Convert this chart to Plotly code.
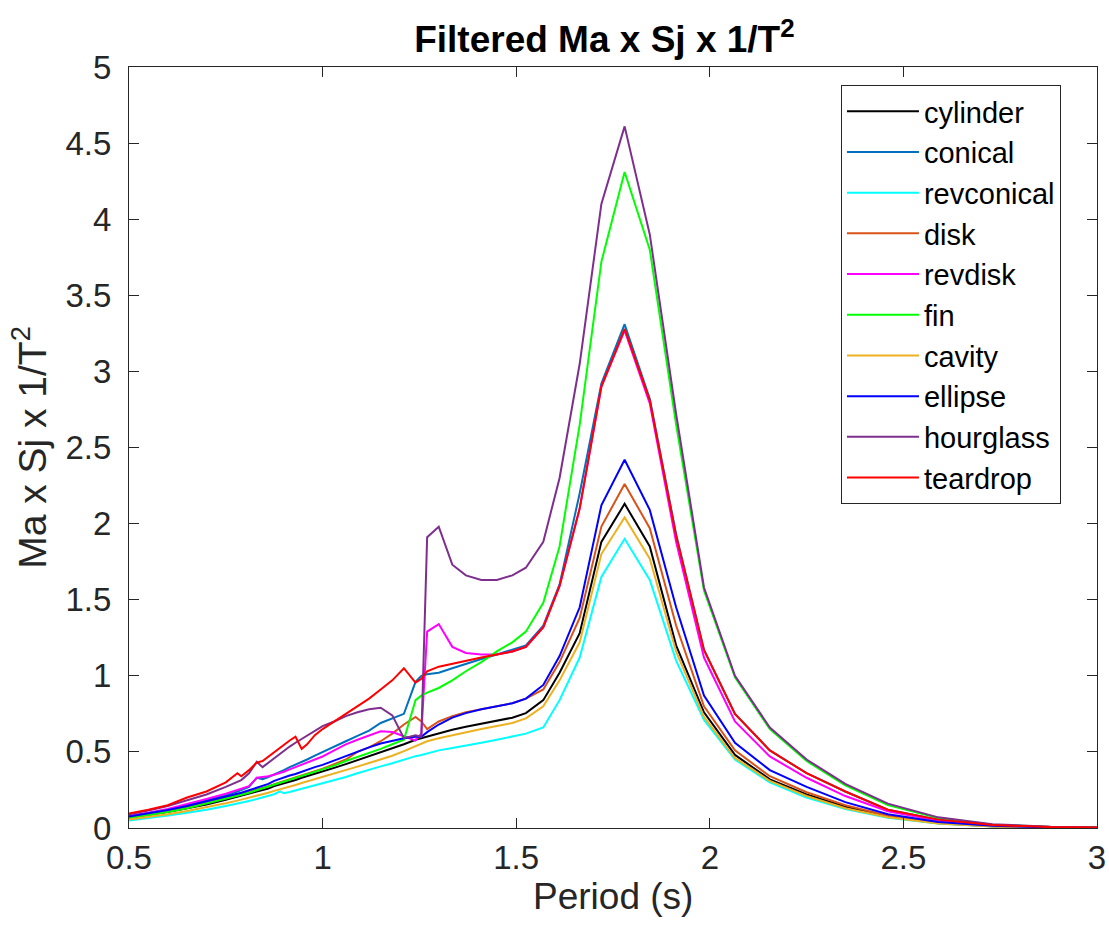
import plotly.graph_objects as go

period = [0.50, 0.55, 0.60, 0.65, 0.70, 0.75, 0.78, 0.79, 0.81, 0.83, 0.845, 0.86, 0.875, 0.89, 0.90, 0.915,
          0.93, 0.946, 0.96, 0.98, 1.00, 1.03, 1.06, 1.09, 1.12, 1.15, 1.18, 1.21, 1.24,
          1.255, 1.27, 1.30, 1.335, 1.37, 1.41, 1.45, 1.49, 1.525,
          1.57, 1.612, 1.664, 1.72, 1.78, 1.845, 1.913, 1.985, 2.065, 2.155,
          2.25, 2.35, 2.46, 2.59, 2.73, 2.88, 3.05]

cylinder = [0.065, 0.085, 0.105, 0.13, 0.155, 0.185, 0.205, 0.21, 0.225, 0.24, 0.25, 0.26, 0.275, 0.285, 0.29, 0.30,
            0.315, 0.33, 0.34, 0.355, 0.37, 0.395, 0.42, 0.445, 0.47, 0.495, 0.52, 0.55, 0.58,
            0.59, 0.605, 0.625, 0.645, 0.665, 0.685, 0.705, 0.725, 0.755,
            0.84, 1.02, 1.28, 1.88, 2.13, 1.85, 1.20, 0.76, 0.48, 0.32,
            0.22, 0.14, 0.075, 0.032, 0.011, 0.003, 0.001]

conical = [0.075, 0.095, 0.12, 0.15, 0.18, 0.215, 0.24, 0.25, 0.27, 0.33, 0.32, 0.335, 0.35, 0.37, 0.38, 0.40,
           0.415, 0.435, 0.45, 0.475, 0.50, 0.535, 0.57, 0.605, 0.64, 0.69, 0.72, 0.75, 0.96,
           1.00, 1.01, 1.02, 1.05, 1.08, 1.11, 1.14, 1.17, 1.20,
           1.33, 1.60, 2.20, 2.92, 3.31, 2.82, 1.93, 1.17, 0.75, 0.51,
           0.36, 0.24, 0.12, 0.055, 0.02, 0.006, 0.002]

revconical = [0.05, 0.065, 0.082, 0.10, 0.12, 0.145, 0.16, 0.166, 0.178, 0.19, 0.20, 0.21, 0.222, 0.24, 0.228, 0.236,
              0.246, 0.257, 0.266, 0.278, 0.29, 0.312, 0.335, 0.36, 0.385, 0.405, 0.425, 0.45, 0.472,
              0.48, 0.49, 0.51, 0.525, 0.54, 0.56, 0.58, 0.60, 0.62,
              0.66, 0.84, 1.12, 1.65, 1.90, 1.63, 1.10, 0.71, 0.45, 0.30,
              0.20, 0.125, 0.068, 0.029, 0.01, 0.003, 0.001]

disk = [0.07, 0.09, 0.112, 0.138, 0.165, 0.195, 0.215, 0.222, 0.237, 0.252, 0.263, 0.275, 0.288, 0.30, 0.307, 0.318,
        0.33, 0.345, 0.357, 0.373, 0.39, 0.42, 0.45, 0.50, 0.53, 0.57, 0.62, 0.68, 0.73,
        0.70, 0.65, 0.70, 0.735, 0.76, 0.78, 0.80, 0.82, 0.85,
        0.91, 1.09, 1.38, 1.98, 2.26, 1.97, 1.33, 0.80, 0.51, 0.34,
        0.235, 0.15, 0.08, 0.035, 0.012, 0.004, 0.001]

revdisk = [0.08, 0.10, 0.125, 0.155, 0.19, 0.225, 0.25, 0.258, 0.275, 0.33, 0.335, 0.34, 0.35, 0.36, 0.37, 0.385,
           0.40, 0.415, 0.43, 0.45, 0.47, 0.51, 0.55, 0.58, 0.61, 0.635, 0.63, 0.60, 0.575,
           0.62, 1.29, 1.34, 1.19, 1.15, 1.14, 1.14, 1.16, 1.19,
           1.32, 1.59, 2.10, 2.90, 3.27, 2.79, 1.88, 1.12, 0.70, 0.47,
           0.33, 0.21, 0.11, 0.048, 0.016, 0.005, 0.001]

fin = [0.065, 0.085, 0.105, 0.13, 0.16, 0.19, 0.21, 0.218, 0.232, 0.248, 0.258, 0.27, 0.283, 0.296, 0.303, 0.315,
       0.327, 0.34, 0.352, 0.368, 0.385, 0.41, 0.44, 0.465, 0.49, 0.52, 0.55, 0.58, 0.84,
       0.87, 0.89, 0.92, 0.97, 1.03, 1.09, 1.16, 1.22, 1.29,
       1.48, 1.85, 2.65, 3.72, 4.31, 3.80, 2.65, 1.56, 0.99, 0.65,
       0.44, 0.28, 0.15, 0.065, 0.022, 0.007, 0.002]

cavity = [0.055, 0.072, 0.09, 0.112, 0.135, 0.162, 0.18, 0.186, 0.20, 0.213, 0.222, 0.232, 0.244, 0.254, 0.26, 0.27,
          0.283, 0.296, 0.306, 0.32, 0.335, 0.358, 0.38, 0.403, 0.427, 0.45, 0.475, 0.505, 0.54,
          0.555, 0.57, 0.59, 0.61, 0.63, 0.65, 0.67, 0.69, 0.72,
          0.80, 0.97, 1.22, 1.80, 2.04, 1.77, 1.16, 0.73, 0.46, 0.31,
          0.21, 0.13, 0.07, 0.03, 0.01, 0.003, 0.001]

ellipse = [0.075, 0.095, 0.118, 0.145, 0.175, 0.205, 0.225, 0.232, 0.248, 0.265, 0.28, 0.29, 0.31, 0.325, 0.33, 0.345,
           0.355, 0.37, 0.38, 0.40, 0.415, 0.445, 0.475, 0.50, 0.53, 0.555, 0.575, 0.59, 0.60,
           0.60, 0.63, 0.68, 0.725, 0.755, 0.78, 0.80, 0.82, 0.85,
           0.94, 1.13, 1.45, 2.12, 2.42, 2.09, 1.45, 0.87, 0.56, 0.38,
           0.27, 0.17, 0.09, 0.04, 0.014, 0.004, 0.001]

hourglass = [0.09, 0.115, 0.145, 0.18, 0.22, 0.27, 0.30, 0.315, 0.36, 0.435, 0.40, 0.43, 0.46, 0.49, 0.51, 0.535,
             0.56, 0.585, 0.61, 0.64, 0.67, 0.70, 0.735, 0.76, 0.78, 0.79, 0.74, 0.59, 0.61,
             0.60, 1.91, 1.98, 1.73, 1.66, 1.63, 1.63, 1.66, 1.71,
             1.88, 2.30, 3.05, 4.10, 4.61, 3.90, 2.72, 1.58, 1.00, 0.66,
             0.45, 0.29, 0.16, 0.07, 0.025, 0.008, 0.002]

teardrop = [0.095, 0.12, 0.15, 0.20, 0.24, 0.30, 0.36, 0.34, 0.38, 0.43, 0.44, 0.47, 0.50, 0.53, 0.55, 0.575,
            0.60, 0.52, 0.55, 0.61, 0.65, 0.70, 0.75, 0.80, 0.85, 0.91, 0.97, 1.05, 0.955,
            0.98, 1.03, 1.06, 1.08, 1.10, 1.12, 1.14, 1.16, 1.19,
            1.32, 1.59, 2.10, 2.90, 3.28, 2.81, 1.92, 1.17, 0.75, 0.51,
            0.36, 0.24, 0.12, 0.055, 0.02, 0.006, 0.002]

names = ["cylinder", "conical", "revconical", "disk", "revdisk", "fin", "cavity", "ellipse", "hourglass", "teardrop"]
series = [cylinder, conical, revconical, disk, revdisk, fin, cavity, ellipse, hourglass, teardrop]
colors = ["#000000", "#0072BD", "#00FFFF", "#D95319", "#FF00FF", "#00FF00", "#EDB120", "#0000FF", "#7E2F8E", "#FF0000"]

xticks = [0.5, 1, 1.5, 2, 2.5, 3]
xticklabels = ["0.5", "1", "1.5", "2", "2.5", "3"]
yticks = [0, 0.5, 1, 1.5, 2, 2.5, 3, 3.5, 4, 4.5, 5]
yticklabels = ["0", "0.5", "1", "1.5", "2", "2.5", "3", "3.5", "4", "4.5", "5"]

FONT = "Liberation Sans, Arial, Helvetica, sans-serif"
AX = "#262626"

fig = go.Figure()
for n, s, c in zip(names, series, colors):
    fig.add_trace(go.Scatter(x=period, y=s, mode="lines", name=n,
                             line=dict(color=c, width=2)))

fig.update_layout(
    width=1109, height=932,
    margin=dict(l=129, r=12, t=67, b=104, autoexpand=False),
    paper_bgcolor="white", plot_bgcolor="white",
    font=dict(family=FONT, color=AX),
    title=dict(text="<b>Filtered Ma x Sj x 1/T<sup>2</sup></b>", x=0.545, xanchor="center",
               y=0.958, yanchor="middle", font=dict(size=37, color="#000000", family=FONT)),
    showlegend=True,
    legend=dict(x=0.7355, y=0.9765, xanchor="left", yanchor="top",
                bgcolor="white", bordercolor=AX, borderwidth=1,
                font=dict(size=29, color="#000000", family=FONT),
                tracegroupgap=0, itemwidth=72),
    annotations=[dict(text="Period (s)", xref="paper", yref="paper", x=0.5, y=-0.09,
                      xanchor="center", yanchor="middle", showarrow=False,
                      font=dict(size=37, color=AX, family=FONT))],
)
fig.update_xaxes(range=[0.5, 3], tickvals=xticks, ticktext=xticklabels, automargin=False,
                 showline=True, mirror="ticks", linecolor=AX, linewidth=1,
                 ticks="inside", ticklen=10, tickcolor=AX, showgrid=False, zeroline=False,
                 tickfont=dict(size=33, color=AX))
fig.update_yaxes(range=[0, 5], tickvals=yticks, ticktext=yticklabels, automargin=False,
                 showline=True, mirror="ticks", linecolor=AX, linewidth=1,
                 ticks="inside", ticklen=10, tickcolor=AX, showgrid=False, zeroline=False,
                 tickfont=dict(size=33, color=AX), ticklabelstandoff=10,
                 title=dict(text="Ma x Sj x 1/T<sup>2</sup>", font=dict(size=39, color=AX), standoff=6))

fig.write_html("out.html")
